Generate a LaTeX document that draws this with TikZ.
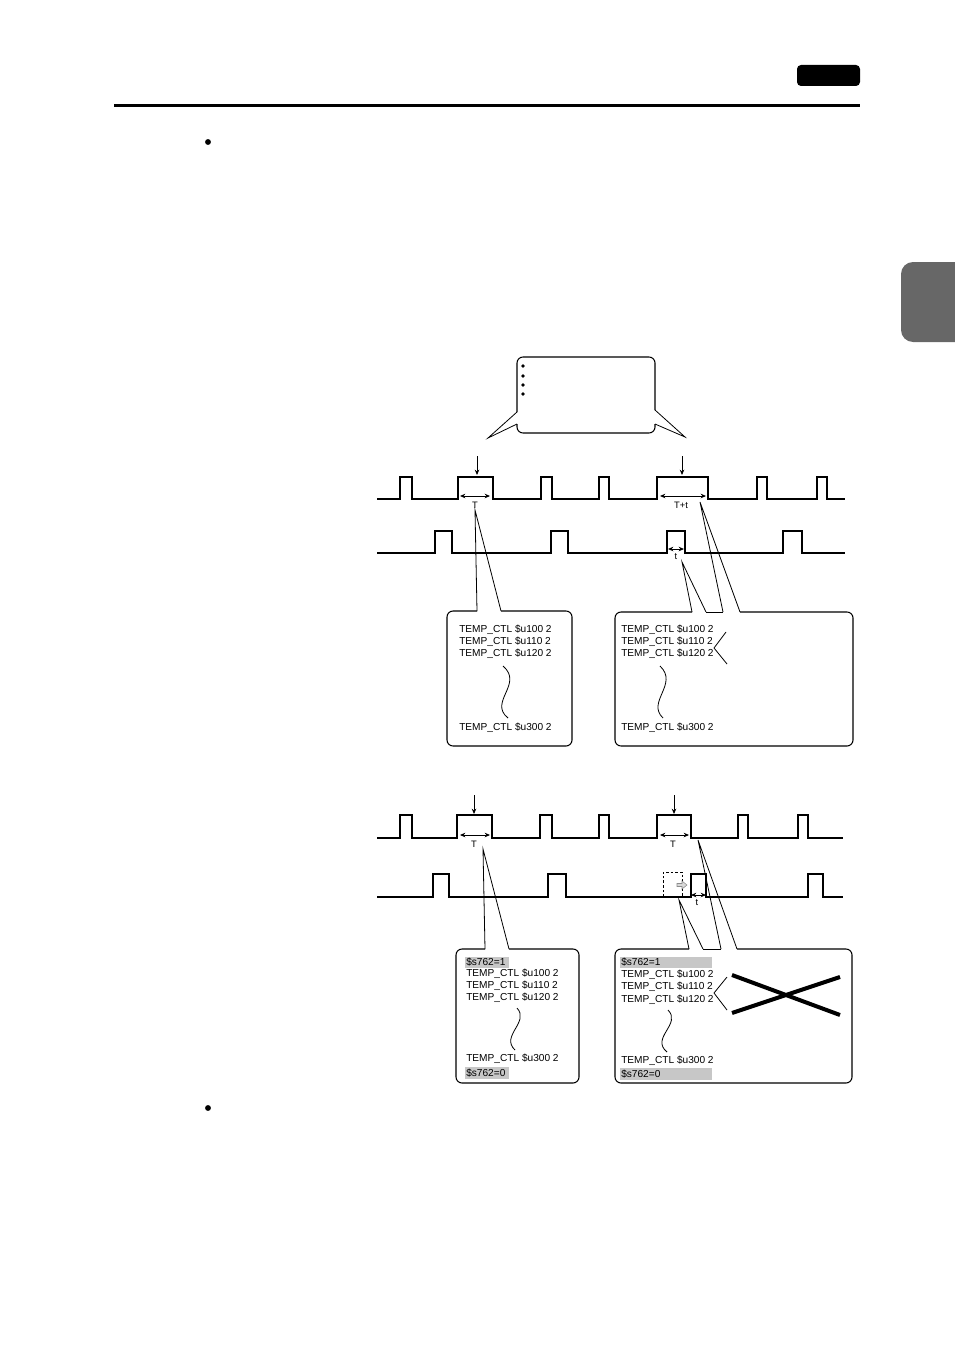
\documentclass[tikz,border=0pt]{standalone}
\usepackage{fontspec}
\setmainfont{Liberation Sans}
\usetikzlibrary{arrows.meta}
\definecolor{tabgray}{HTML}{676767}

\begin{document}
\begin{tikzpicture}[
    x=0.75pt, y=-0.75pt,
    wave/.style={line width=1pt, line join=miter},
    boxline/.style={line width=0.8pt, rounded corners=4.5pt},
    callout/.style={line width=0.6pt},
    arrow/.style={-{Stealth[length=4pt, width=3.4pt]}, line width=0.6pt},
    dim/.style={{Stealth[length=4pt, width=3.4pt]}-{Stealth[length=4pt, width=3.4pt]}, line width=0.6pt},
    code/.style={anchor=west, inner sep=0pt, font=\fontsize{7.6}{9}\selectfont},
    lbl/.style={inner sep=0pt, font=\fontsize{7}{8}\selectfont},
    hilite/.style={fill=black!22}
]
\useasboundingbox (0,0) rectangle (954,1348);

% page furniture
\fill[rounded corners=3pt] (797,65) rectangle (860,86);
\fill (114,104) rectangle (860,107);
\fill[tabgray, rounded corners=9pt] (970,262) -- (901,262) -- (901,342) -- (970,342) -- cycle;
\fill (208,142) circle[radius=2.2pt];
\fill (208,1108) circle[radius=2.2pt];

% balloon
\draw[boxline] (517,412) -- (517,357) -- (655,357) -- (655,410);
\draw[callout, line join=miter] (655,410) -- (685,437) -- (655,424);
\draw[boxline] (655,424) -- (655,433) -- (517,433) -- (517,424);
\draw[callout, line join=miter] (517,424) -- (488,438) -- (517,412);
\foreach \y in {366,376,385,394}
    \fill (523,\y) circle[radius=1.4pt];

% ---------- upper chart ----------
\draw[wave] (377,499) \foreach \a/\b in {400/412, 458/493, 541/552, 599/609, 657/708, 757/767, 817/827}
    { -- (\a,499) -- (\a,477) -- (\b,477) -- (\b,499) } -- (845,499);
\draw[wave] (377,553) \foreach \a/\b in {435/452, 551/568, 667/685, 783/802}
    { -- (\a,553) -- (\a,531) -- (\b,531) -- (\b,553) } -- (845,553);

\draw[arrow] (477,456) -- (477,475);
\draw[arrow] (682,456) -- (682,475);
\draw[dim] (460,496) -- (490,496);
\node[lbl] (dT1) at (475,505) {T};
\draw[dim] (660,496) -- (706,496);
\node[lbl] (dTt) at (681,505) {T+t};
\draw[dim] (668,549) -- (684,549);
\node[lbl] (dt1) at (676,557) {t};

% callouts
\coordinate (tipA) at (475,510);
\coordinate (tipB) at (682,562);
\coordinate (tipC) at (700,502);
\draw[callout] (477,611) -- (tipA) -- (501,611);
\draw[callout] (692,612) -- (tipB) -- (706,612);
\draw[callout] (723,612) -- (tipC) -- (740,612);

% box 1
\draw[boxline] (477,611) -- (447,611) -- (447,746) -- (572,746) -- (572,611) -- (501,611);
\node[code] (a1) at (459,629.5) {TEMP\_CTL \$u100 2};
\node[code] (a2) at (459,641.5) {TEMP\_CTL \$u110 2};
\node[code] (a3) at (459,653.5) {TEMP\_CTL \$u120 2};
\node[code] (a4) at (459,727.5) {TEMP\_CTL \$u300 2};
\draw[callout] (503,666) .. controls (524,684) and (488,702) .. (508,718);

% box 2
\draw[boxline] (692,612) -- (615,612) -- (615,746) -- (853,746) -- (853,612) -- (740,612);
\draw[callout] (706,612) -- (723,612);
\node[code] (b1) at (621,629.5) {TEMP\_CTL \$u100 2};
\node[code] (b2) at (621,641.5) {TEMP\_CTL \$u110 2};
\node[code] (b3) at (621,653.5) {TEMP\_CTL \$u120 2};
\node[code] (b4) at (621,727.5) {TEMP\_CTL \$u300 2};
\draw[callout] (726,632) -- (714,648) -- (727,664);
\draw[callout] (660,666) .. controls (679,684) and (646,702) .. (663,718);

% ---------- lower chart ----------
\draw[wave] (377,838) \foreach \a/\b in {400/412, 457/492, 540/552, 599/609, 657/691, 738/748, 798/808}
    { -- (\a,838) -- (\a,815) -- (\b,815) -- (\b,838) } -- (843,838);
\draw[wave] (377,897) \foreach \a/\b in {433/449, 548/566, 691/706, 808/823}
    { -- (\a,897) -- (\a,874) -- (\b,874) -- (\b,897) } -- (843,897);
\draw[line width=0.7pt, dash pattern=on 2pt off 1.5pt] (663,897) -- (663,872) -- (682,872) -- (682,897);
\filldraw[draw=black!45, fill=black!15, line width=0.4pt]
    (677,883.5) -- (682,883.5) -- (682,881) -- (687,885) -- (682,889) -- (682,886.5) -- (677,886.5) -- cycle;

\draw[arrow] (474,795) -- (474,814);
\draw[arrow] (674,795) -- (674,814);
\draw[dim] (460,835) -- (490,835);
\node[lbl] (dT2) at (474,844) {T};
\draw[dim] (660,835) -- (689,835);
\node[lbl] (dT3) at (673,844) {T};
\draw[dim] (691,895) -- (706,895);
\node[lbl] (dt2) at (697,903) {t};

\coordinate (tipD) at (483,849);
\coordinate (tipE) at (679,900);
\coordinate (tipF) at (698,840);
\draw[callout] (485,949) -- (tipD) -- (509,949);
\draw[callout] (689,949) -- (tipE) -- (703,949);
\draw[callout] (721,949) -- (tipF) -- (737,949);

% box 3
\fill[hilite] (465,957) rectangle (509,968);
\fill[hilite] (465,1067) rectangle (509,1079);
\draw[boxline] (485,949) -- (456,949) -- (456,1083) -- (579,1083) -- (579,949) -- (509,949);
\node[code] (c0) at (466,962) {\$s762=1};
\node[code] (c1) at (466,974) {TEMP\_CTL \$u100 2};
\node[code] (c2) at (466,986) {TEMP\_CTL \$u110 2};
\node[code] (c3) at (466,998) {TEMP\_CTL \$u120 2};
\node[code] (c4) at (466,1059) {TEMP\_CTL \$u300 2};
\node[code] (c5) at (466,1073) {\$s762=0};
\draw[callout] (517,1008) .. controls (530,1022) and (500,1036) .. (515,1050);

% box 4
\fill[hilite] (620,957) rectangle (712,968);
\fill[hilite] (620,1068) rectangle (712,1080);
\draw[boxline] (689,949) -- (615,949) -- (615,1083) -- (852,1083) -- (852,949) -- (737,949);
\draw[callout] (703,949) -- (721,949);
\node[code] (d0) at (621,962) {\$s762=1};
\node[code] (d1) at (621,975) {TEMP\_CTL \$u100 2};
\node[code] (d2) at (621,987) {TEMP\_CTL \$u110 2};
\node[code] (d3) at (621,1000) {TEMP\_CTL \$u120 2};
\node[code] (d4) at (621,1061) {TEMP\_CTL \$u300 2};
\node[code] (d5) at (621,1074) {\$s762=0};
\draw[callout] (727,977) -- (714,993) -- (727,1010);
\draw[callout] (668,1010) .. controls (682,1024) and (650,1038) .. (667,1052);
\draw[line width=3pt] (732,975) -- (840,1015);
\draw[line width=3pt] (732,1013) -- (840,977);
\end{tikzpicture}
\end{document}
